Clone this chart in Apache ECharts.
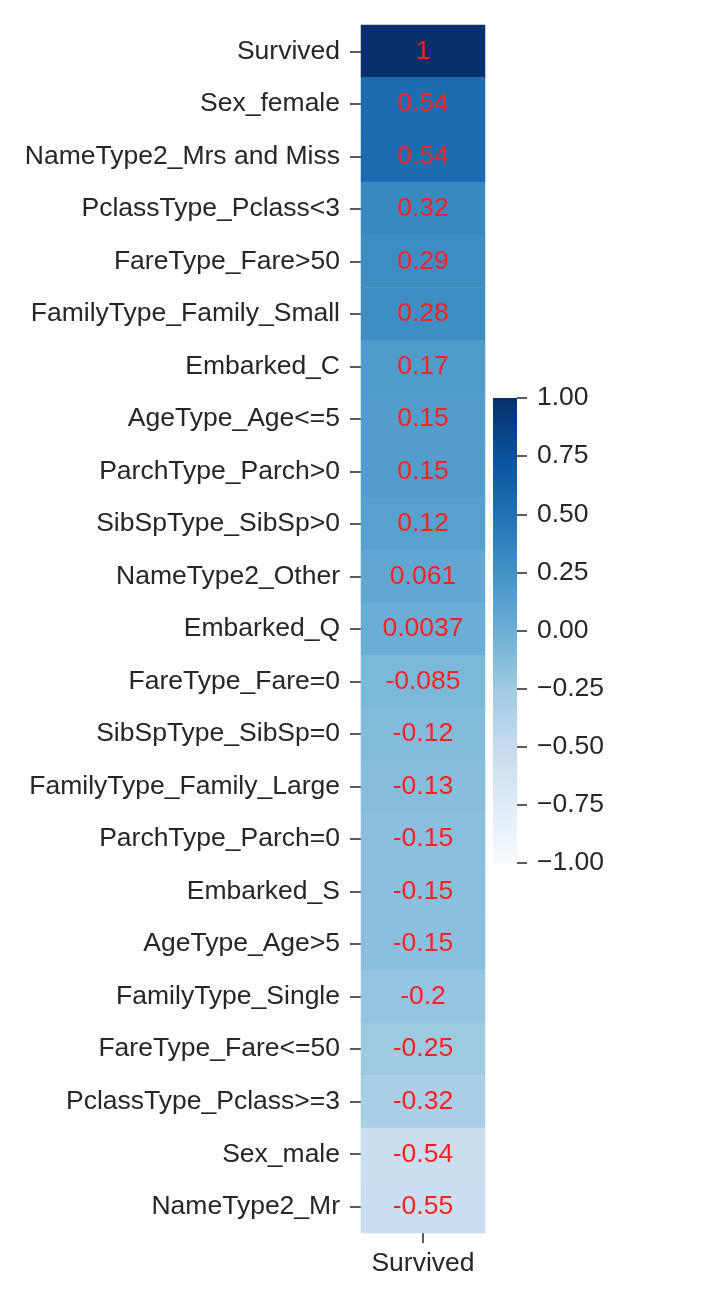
<!DOCTYPE html>
<html>
<head>
<meta charset="utf-8">
<script src="https://cdn.jsdelivr.net/npm/echarts@6/dist/echarts.min.js"></script>
<style>html,body{margin:0;padding:0;background:#fff}#c{width:726px;height:1308px}</style>
</head>
<body>
<div id="c"></div>
<script>
const features = ["Survived","Sex_female","NameType2_Mrs and Miss","PclassType_Pclass<3","FareType_Fare>50","FamilyType_Family_Small","Embarked_C","AgeType_Age<=5","ParchType_Parch>0","SibSpType_SibSp>0","NameType2_Other","Embarked_Q","FareType_Fare=0","SibSpType_SibSp=0","FamilyType_Family_Large","ParchType_Parch=0","Embarked_S","AgeType_Age>5","FamilyType_Single","FareType_Fare<=50","PclassType_Pclass>=3","Sex_male","NameType2_Mr"];
const columns = ["Survived"];
const correlations = [1,0.54,0.54,0.32,0.29,0.28,0.17,0.15,0.15,0.12,0.061,0.0037,-0.085,-0.12,-0.13,-0.15,-0.15,-0.15,-0.2,-0.25,-0.32,-0.54,-0.55];
const colorTicks = [-1,-0.75,-0.5,-0.25,0,0.25,0.5,0.75,1];
const blues = ['#f7fbff','#deebf7','#c6dbef','#9ecae1','#6baed6','#4292c6','#2171b5','#08519c','#08306b'];

const FONT = '"Liberation Sans", Arial, sans-serif';
const FS = 26.5;
const chart = echarts.init(document.getElementById('c'), null, {renderer:'canvas'});
const data = correlations.map((v,i)=>[0,i,v]);
const barGradient = new echarts.graphic.LinearGradient(0,1,0,0,
  blues.map((c,i)=>({offset:i/(blues.length-1), color:c})));
chart.setOption({
  animation:false,
  textStyle:{fontFamily:FONT},
  grid:[
    {left:361, top:25, width:124, height:1208},
    {left:493, top:398, width:24, height:465, show:true, backgroundColor:barGradient, borderWidth:0}
  ],
  xAxis:[
    {type:'category', gridIndex:0, data:columns, position:'bottom',
     axisLine:{show:false}, splitArea:{show:false},
     axisTick:{show:true, alignWithLabel:true, length:10, lineStyle:{color:'#262626', width:1.5}},
     axisLabel:{fontSize:FS, color:'#262626', margin:17, fontFamily:FONT}},
    {type:'value', gridIndex:1, show:false, min:0, max:1}
  ],
  yAxis:[
    {type:'category', gridIndex:0, data:features, inverse:true,
     axisLine:{show:false}, splitArea:{show:false},
     axisTick:{show:true, alignWithLabel:true, length:11, lineStyle:{color:'#262626', width:1.5}},
     axisLabel:{fontSize:FS, color:'#262626', margin:21, fontFamily:FONT}},
    {type:'value', gridIndex:1, position:'right', min:-1, max:1, interval:0.25,
     axisLine:{show:false, onZero:false}, splitLine:{show:false},
     axisTick:{show:true, length:10, inside:false, lineStyle:{color:'#262626', width:1.5}},
     axisLabel:{fontSize:FS, color:'#262626', margin:20, fontFamily:FONT,
       formatter:v=>(v<0?'\u2212':'')+Math.abs(v).toFixed(2)}}
  ],
  visualMap:{
    type:'continuous', min:-1, max:1, seriesIndex:0, dimension:2, show:false,
    inRange:{color:blues}
  },
  series:[{
    type:'heatmap', xAxisIndex:0, yAxisIndex:0, data:data,
    label:{show:true, color:'#ff2020', fontSize:FS, fontFamily:FONT,
      formatter:p=>String(p.value[2])},
    itemStyle:{borderWidth:0},
    emphasis:{disabled:true}
  }]
});
</script>
</body>
</html>
